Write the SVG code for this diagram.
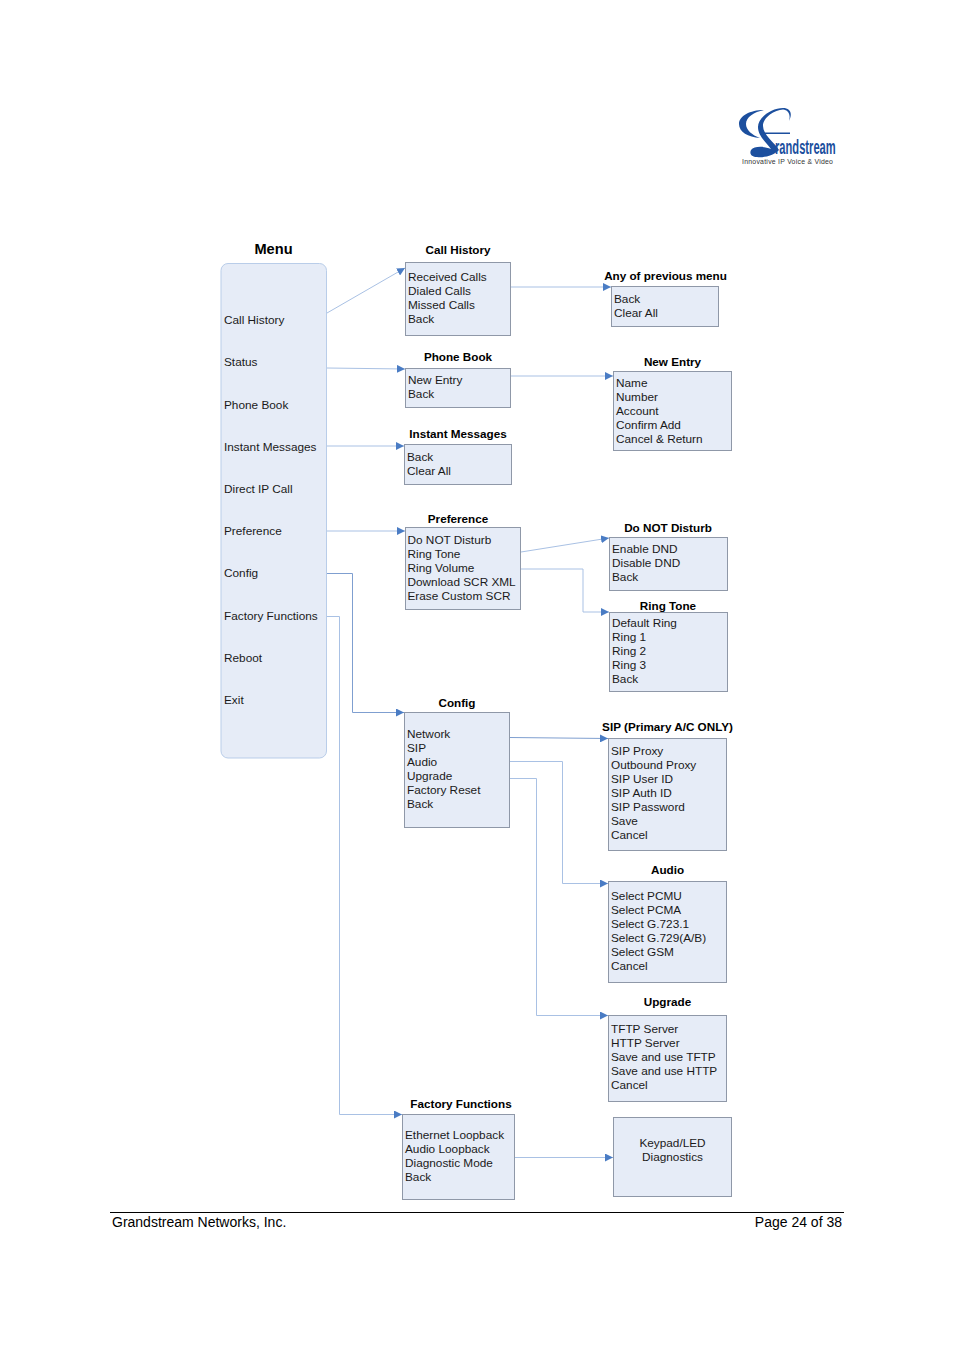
<svg xmlns="http://www.w3.org/2000/svg" width="954" height="1350" viewBox="0 0 954 1350">
<style>
text{font-family:"Liberation Sans",Arial,sans-serif;fill:#1a1a1a}
.t{font-size:11.8px}
g:not(#menu) .t{transform:translateY(-.7px)}
.h{font-size:11.7px;font-weight:bold;text-anchor:middle;fill:#000}
.b{fill:#e6ecf7;stroke:#8f98a8;stroke-width:1}
.c{fill:none;stroke:#a9c1e4;stroke-width:1}
.d{fill:none;stroke:#7f9fd0;stroke-width:1}
.l{fill:#1c4f9e}
</style>
<defs><marker id="a" markerUnits="userSpaceOnUse" markerWidth="9" markerHeight="8" refX="8" refY="4" orient="auto"><path d="M0 0L8 4L0 8Z" fill="#4a7cc4"/></marker></defs>
<rect width="954" height="1350" fill="#fff"/>
<g id="logo">
<path class="l" d="M764 110C750 110 739 116 739 124C739 132 748 137 760 138C752 135 746 130 746 124C746 117 754 112 764 110Z"/>
<path class="l" d="M789 121C793 113 790 108 783 108C772 108 758 117 758 127C758 136 766 142 771 149C764 146 754 146 751 150C749 154 752 157 757 157C765 158 774 155 779 150C775 143 763 135 763 126C763 117 775 110 783 109.500C788 110 791 114 789 121Z"/>
<path class="l" d="M763 132.500H790V134H764Z"/>
<text x="0" y="0" transform="translate(775 153.500) scale(.62 1.15)" style="font-size:18px;font-weight:bold;fill:#1c4f9e">randstream</text>
<text x="742" y="163.800" style="font-size:6.9px;fill:#333;letter-spacing:.25px">Innovative IP Voice &amp; Video</text>
</g>
<g id="connectors">
<path class="c" d="M327 313L405 268" marker-end="url(#a)"/>
<path class="c" d="M511 287H611" marker-end="url(#a)"/>
<path class="c" d="M327 368L405 369" marker-end="url(#a)"/>
<path class="c" d="M511 376H613" marker-end="url(#a)"/>
<path class="c" d="M327 446H404" marker-end="url(#a)"/>
<path class="c" d="M327 531H405" marker-end="url(#a)"/>
<path class="c" d="M521 552L609 538" marker-end="url(#a)"/>
<path class="c" d="M521 569H583V612H609" marker-end="url(#a)"/>
<path class="d" d="M327 573.500H352.500V712.500H404" marker-end="url(#a)"/>
<path class="c" d="M327 616.500H339.500V1114.500H402" marker-end="url(#a)"/>
<path class="d" d="M510 737.500L608 738.500" marker-end="url(#a)"/>
<path class="c" d="M510 761.500H562.500V883.500H608" marker-end="url(#a)"/>
<path class="c" d="M510 778.500H536.500V1015.500H608" marker-end="url(#a)"/>
<path class="c" d="M515 1157.500H613" marker-end="url(#a)"/>
</g>
<g id="menu"><text x="273.500" y="254" text-anchor="middle" style="font-size:14.6px;font-weight:bold;fill:#000">Menu</text>
<rect x="221" y="263.500" width="105.500" height="494.500" rx="7" fill="#e6ecf7" stroke="#b9cde9"/>
<text class="t" x="224" y="324">Call History</text><text class="t" x="224" y="366">Status</text><text class="t" x="224" y="408.500">Phone Book</text><text class="t" x="224" y="451">Instant Messages</text><text class="t" x="224" y="493">Direct IP Call</text><text class="t" x="224" y="535">Preference</text><text class="t" x="224" y="577">Config</text><text class="t" x="224" y="620">Factory Functions</text><text class="t" x="224" y="662">Reboot</text><text class="t" x="224" y="704">Exit</text></g>
<g id="call-history"><text class="h" x="458" y="254">Call History</text><rect class="b" x="405.500" y="262.500" width="105" height="73"/>
<text class="t" x="408" y="282">Received Calls</text><text class="t" x="408" y="296">Dialed Calls</text><text class="t" x="408" y="310">Missed Calls</text><text class="t" x="408" y="324">Back</text></g>
<g id="any-previous"><text class="h" x="665.500" y="280">Any of previous menu</text><rect class="b" x="611.500" y="286.500" width="107" height="40"/>
<text class="t" x="614" y="304">Back</text><text class="t" x="614" y="318">Clear All</text></g>
<g id="phone-book"><text class="h" x="458" y="361">Phone Book</text><rect class="b" x="405.500" y="368.500" width="105" height="39"/>
<text class="t" x="408" y="385">New Entry</text><text class="t" x="408" y="399">Back</text></g>
<g id="new-entry"><text class="h" x="672.500" y="366">New Entry</text><rect class="b" x="613.500" y="371.500" width="118" height="79"/>
<text class="t" x="616" y="388">Name</text><text class="t" x="616" y="402">Number</text><text class="t" x="616" y="416">Account</text><text class="t" x="616" y="430">Confirm Add</text><text class="t" x="616" y="444">Cancel &amp; Return</text></g>
<g id="instant-messages"><text class="h" x="458" y="438">Instant Messages</text><rect class="b" x="404.500" y="444.500" width="107" height="40"/>
<text class="t" x="407" y="462">Back</text><text class="t" x="407" y="476">Clear All</text></g>
<g id="preference"><text class="h" x="458" y="523">Preference</text><rect class="b" x="405.500" y="527.500" width="115" height="82"/>
<text class="t" x="407.500" y="545">Do NOT Disturb</text><text class="t" x="407.500" y="559">Ring Tone</text><text class="t" x="407.500" y="573">Ring Volume</text><text class="t" x="407.500" y="587">Download SCR XML</text><text class="t" x="407.500" y="601">Erase Custom SCR</text></g>
<g id="dnd"><text class="h" x="668" y="532">Do NOT Disturb</text><rect class="b" x="609.500" y="537.500" width="118" height="53"/>
<text class="t" x="612" y="554">Enable DND</text><text class="t" x="612" y="568">Disable DND</text><text class="t" x="612" y="582">Back</text></g>
<g id="ring-tone"><text class="h" x="668" y="610">Ring Tone</text><rect class="b" x="609.500" y="612.500" width="118" height="79"/>
<text class="t" x="612" y="628">Default Ring</text><text class="t" x="612" y="642">Ring 1</text><text class="t" x="612" y="656">Ring 2</text><text class="t" x="612" y="670">Ring 3</text><text class="t" x="612" y="684">Back</text></g>
<g id="config"><text class="h" x="457" y="707">Config</text><rect class="b" x="404.500" y="712.500" width="105" height="115"/>
<text class="t" x="407" y="739">Network</text><text class="t" x="407" y="753">SIP</text><text class="t" x="407" y="767">Audio</text><text class="t" x="407" y="781">Upgrade</text><text class="t" x="407" y="795">Factory Reset</text><text class="t" x="407" y="809">Back</text></g>
<g id="sip"><text class="h" x="667.500" y="731">SIP (Primary A/C ONLY)</text><rect class="b" x="608.500" y="738.500" width="118" height="112"/>
<text class="t" x="611" y="756">SIP Proxy</text><text class="t" x="611" y="770">Outbound Proxy</text><text class="t" x="611" y="784">SIP User ID</text><text class="t" x="611" y="798">SIP Auth ID</text><text class="t" x="611" y="812">SIP Password</text><text class="t" x="611" y="826">Save</text><text class="t" x="611" y="840">Cancel</text></g>
<g id="audio"><text class="h" x="667.500" y="874">Audio</text><rect class="b" x="608.500" y="881.500" width="118" height="101"/>
<text class="t" x="611" y="901">Select PCMU</text><text class="t" x="611" y="915">Select PCMA</text><text class="t" x="611" y="929">Select G.723.1</text><text class="t" x="611" y="943">Select G.729(A/B)</text><text class="t" x="611" y="957">Select GSM</text><text class="t" x="611" y="971">Cancel</text></g>
<g id="upgrade"><text class="h" x="667.500" y="1006">Upgrade</text><rect class="b" x="608.500" y="1015.500" width="118" height="86"/>
<text class="t" x="611" y="1034">TFTP Server</text><text class="t" x="611" y="1048">HTTP Server</text><text class="t" x="611" y="1062">Save and use TFTP</text><text class="t" x="611" y="1076">Save and use HTTP</text><text class="t" x="611" y="1090">Cancel</text></g>
<g id="factory"><text class="h" x="461" y="1108">Factory Functions</text><rect class="b" x="402.500" y="1114.500" width="112" height="85"/>
<text class="t" x="405" y="1140">Ethernet Loopback</text><text class="t" x="405" y="1154">Audio Loopback</text><text class="t" x="405" y="1168">Diagnostic Mode</text><text class="t" x="405" y="1182">Back</text></g>
<g id="keypad"><rect class="b" x="613.500" y="1117.500" width="118" height="79"/>
<text class="t" x="672.500" y="1147.500" text-anchor="middle">Keypad/LED</text><text class="t" x="672.500" y="1161.500" text-anchor="middle">Diagnostics</text></g>
<g id="footer"><path d="M110 1212.500H844" stroke="#000" fill="none"/>
<text x="112" y="1227" style="font-size:14px;fill:#000">Grandstream Networks, Inc.</text><text x="842" y="1227" text-anchor="end" style="font-size:14px;fill:#000">Page 24 of 38</text></g>
</svg>
